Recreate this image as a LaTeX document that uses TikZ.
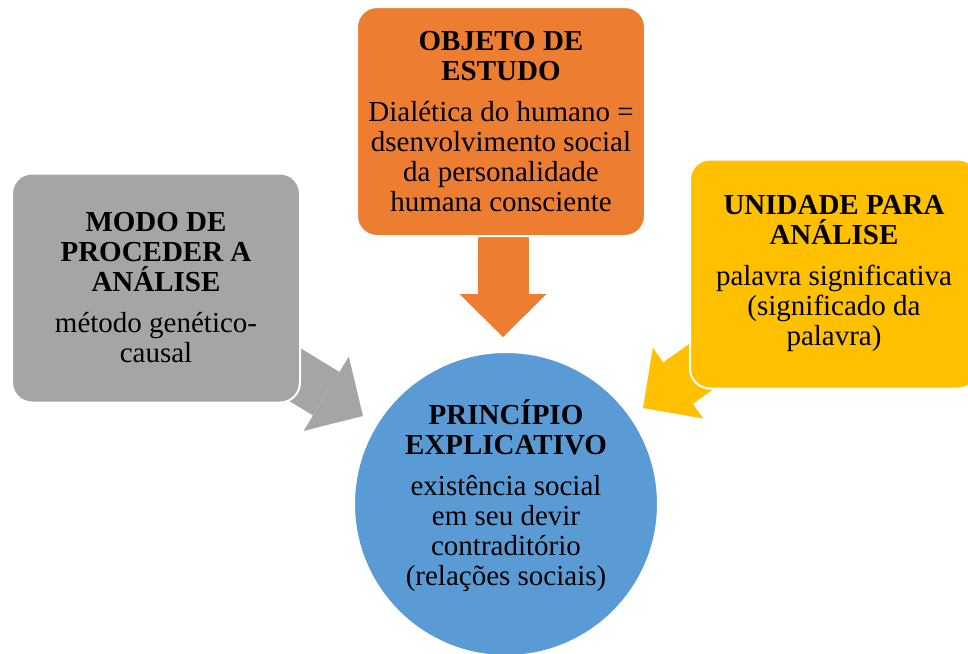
\documentclass[tikz,border=0pt]{standalone}
\usepackage{fontspec}
\setmainfont{Liberation Serif}
\usepackage{tikz}
\usetikzlibrary{arrows.meta}
\usetikzlibrary{backgrounds}
\usetikzlibrary{shapes,positioning}
\definecolor{objorange}{HTML}{ED7D31}
\definecolor{modogray}{HTML}{A5A5A5}
\definecolor{unidyellow}{HTML}{FFC000}
\definecolor{princblue}{HTML}{5B9BD5}
\tikzset{
  box/.style={draw=white, line width=1pt, rounded corners=10pt,
    minimum width=144pt, minimum height=114.5pt, align=center,
    font=\fontsize{14.5}{15}\selectfont},
  disc/.style={circle, draw=white, line width=1pt, fill=princblue,
    minimum size=152pt, inner sep=0pt},
  disctext/.style={align=center, inner sep=0pt,
    font=\fontsize{14.5}{15}\selectfont},
  bigarrow/.style={line width=25.5pt,
    -{Triangle[length=21.5pt, width=43.5pt, line width=0pt]}}}

\begin{document}
\begin{tikzpicture}[x=0.5pt, y=-0.5pt]

  \clip (0,0) rectangle (968,653);

  \node [box, fill=objorange] (objeto) at (501,121.5)
    {\textbf{OBJETO DE}\\\textbf{ESTUDO}\\[5.5pt]
     Dialética do humano =\\dsenvolvimento social\\da personalidade\\humana consciente};
  \node [box, fill=modogray] (modo) at (156,288)
    {\textbf{MODO DE}\\\textbf{PROCEDER A}\\\textbf{ANÁLISE}\\[5.5pt]
     método genético-\\causal};
  \node [box, fill=unidyellow] (unidade) at (834,274)
    {\textbf{UNIDADE PARA}\\\textbf{ANÁLISE}\\[5.5pt]
     palavra significativa\\(significado da\\palavra)};
  \node [disc] (principio) at (506,504) {};
  \node [disctext] (principiotexto) at ([yshift=4pt]principio.center)
    {\textbf{PRINCÍPIO}\\\textbf{EXPLICATIVO}\\[5.5pt]
     existência social\\em seu devir\\contraditório\\(relações sociais)};

  \coordinate (otail) at (503,225);
  \coordinate (otip) at (503,337);
  \coordinate (gtail) at (269,359);
  \coordinate (gtip) at (363,416);
  \coordinate (ytail) at (733,344);
  \coordinate (ytip) at (643,408);

  \begin{scope}[on background layer]
    \draw [bigarrow, objorange] (otail) -- (otip);
    \draw [bigarrow, modogray] (gtail) -- (gtip);
    \draw [bigarrow, unidyellow] (ytail) -- (ytip);
  \end{scope}

\end{tikzpicture}
\end{document}
